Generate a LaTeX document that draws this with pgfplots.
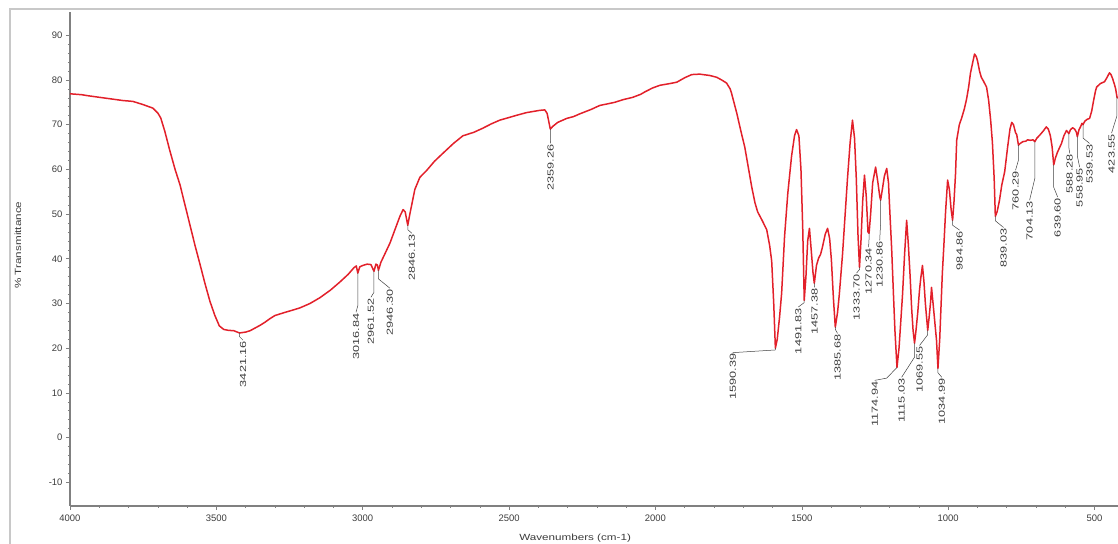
\documentclass[border=0pt]{standalone}
\usepackage{fontspec}
\setmainfont{Liberation Sans}
\usepackage{graphicx}
\usepackage{pgfplots}
\pgfplotsset{compat=1.18}
\definecolor{curvered}{RGB}{226,32,42}
\definecolor{axgray}{RGB}{128,128,128}
\definecolor{txtgray}{RGB}{60,60,60}
\definecolor{framegray}{RGB}{200,200,200}
\newcommand{\pk}[4]{\draw[leader] (axis cs:#1) -- (axis cs:#2) -- (axis cs:#3) node[rotate=90, anchor=east, inner sep=0.8bp, text=txtgray, font=\fontsize{8.8}{9}\selectfont] {\scalebox{1.45}[1]{#4}};}
\begin{document}
\begin{tikzpicture}[leader/.style={draw=black!75, line width=0.5bp}]
\begin{axis}[
  scale only axis,
  width=1048bp, height=494bp,
  x dir=reverse,
  xmin=420, xmax=4000,
  ymin=-15.3, ymax=95.2,
  axis x line*=bottom, axis y line*=left,
  axis line style={axgray, line width=1.2bp},
  xtick={500,1000,...,4000},
  ytick={-10,0,...,90},
  minor x tick num=4, minor y tick num=4,
  tick align=outside,
  major tick length=4bp, minor tick length=2bp,
  tick style={axgray, line width=0.6bp},
  /pgf/number format/assume math mode=true,
  /pgf/number format/1000 sep={},
  tick label style={text=txtgray, font=\fontsize{9.5}{10}\selectfont},
  xticklabel style={yshift=-1bp},
  xlabel={\scalebox{1.3}[1]{Wavenumbers (cm-1)}},
  ylabel={\scalebox{1.3}[1]{\% Transmittance}},
  label style={text=txtgray, font=\fontsize{9}{10}\selectfont},
  xlabel style={at={(axis description cs:0.482,-0.065)}, anchor=center},
  ylabel style={at={(axis description cs:-0.0496,0.528)}, anchor=center},
  clip=true,
]
\addplot[curvered, line width=1.5bp, line join=round] coordinates {
(4000,76.9) (3960,76.7) (3942,76.5) (3898,76.1) (3853,75.7) (3820,75.4) (3785,75.2)
(3751,74.5) (3717,73.7) (3700,72.6) (3690,71.5) (3676,68.5) (3659,64.2) (3641,60)
(3624,56.5) (3607,52) (3590,47.5) (3573,43) (3556,38.8) (3539,34.5) (3522,30.5)
(3505,27.3) (3490,25.0) (3475,24.2) (3460,24.0) (3440,23.9) (3421,23.4) (3400,23.6)
(3385,23.9) (3368,24.5) (3351,25.1) (3334,25.8) (3317,26.6) (3300,27.3) (3266,28.0)
(3240,28.5) (3215,29.0) (3180,30.0) (3146,31.3) (3110,33.0) (3078,34.8) (3050,36.5)
(3030,38.0) (3022,38.4) (3016.84,36.8) (3010,38.2) (3000,38.5) (2985,38.8) (2972,38.7)
(2961.52,37.2) (2955,38.8) (2950,38.6) (2946.3,37.4) (2938,39.2) (2925,41) (2907,43.5)
(2890,46.5) (2873,49.5) (2862,51) (2855,50.5) (2846.13,47.5) (2839,50) (2822,55.5)
(2805,58.2) (2781,59.8) (2755,61.8) (2726,63.6) (2690,65.8) (2658,67.5) (2620,68.3)
(2590,69.2) (2560,70.2) (2532,71.0) (2500,71.6) (2474,72.1) (2440,72.7) (2395,73.2)
(2378,73.3) (2370,72.5) (2359.26,69.0) (2351,69.6) (2334,70.5) (2303,71.4) (2280,71.8)
(2259,72.4) (2220,73.4) (2190,74.3) (2160,74.7) (2139,75.0) (2110,75.6) (2078,76.1)
(2050,76.8) (2037,77.3) (2010,78.2) (1985,78.8) (1950,79.2) (1927,79.5) (1900,80.5)
(1876,81.2) (1849,81.3) (1815,81.0) (1791,80.6) (1774,80.0) (1757,79.3) (1745,78.0)
(1740,77) (1730,74.5) (1722,72.5) (1708,68.5) (1695,65) (1683,60.5) (1671,56)
(1660,52.5) (1651,50.5) (1635,48.5) (1620,46.5) (1610,43) (1603,39.5) (1596,30)
(1590.39,20.0) (1584,22) (1576,27) (1569,32.3) (1559,45) (1548,54.6) (1535,63)
(1525,67.5) (1518,68.9) (1510,67.5) (1503,60) (1497,47) (1491.83,30.7) (1486,36)
(1480,44) (1474,46.8) (1468,42) (1462,37) (1457.38,34.5) (1450,38.5) (1443,40.1)
(1436,41) (1430,42.5) (1420,45.5) (1412,46.8) (1405,44.5) (1399,39.7) (1392,31)
(1385.68,24.7) (1378,28) (1372,32) (1361,41) (1352,50) (1344,58) (1335,66)
(1327,71) (1320,67) (1314,58) (1308,45) (1303,38.1) (1298,44) (1292,53)
(1286,58.7) (1280,54) (1274,46) (1270.34,45.7) (1265,50) (1258,57) (1248,60.5)
(1240,57) (1234,54) (1230.86,53.1) (1225,55.5) (1218,58.5) (1210,60.2) (1204,57)
(1199,50) (1193,42) (1187,32) (1182,24) (1175,15.7) (1168,20) (1162,26)
(1156,32) (1149,41) (1142,48.6) (1136,43) (1130,36) (1125,29) (1120,24)
(1115,21.1) (1110,24) (1104,28) (1098,33) (1094,35.5) (1088,38.5) (1083,35)
(1078,30) (1070,24) (1065,27) (1060,30.5) (1057,33.6) (1051,29.5) (1046,26)
(1040,21.8) (1035,15.5) (1029,22) (1026,27) (1020,36.8) (1014,44) (1009,50.5)
(1002,57.6) (996,55.5) (990,51) (985,48.6) (980,53) (975,59) (971,66.5)
(962,70) (954,71.5) (945,73.5) (937,75.8) (930,78.5) (924,81.5) (916,84)
(910,85.8) (904,85.2) (900,84.3) (893,82) (887,80.6) (880,79.8) (869,78.4)
(862,75.5) (855,71) (849,66) (843,58) (839,49.5) (833,50.5) (825,53)
(817,56.5) (807,59.5) (797,65) (789,69) (783,70.5) (777,70) (770,68.2)
(766,67.8) (760,65.4) (754,65.8) (745,66.2) (735,66.3) (729,66.6) (720,66.5)
(710,66.6) (704,66.2) (697,67.0) (688,67.6) (675,68.6) (665,69.5) (658,69.0)
(651,67.5) (645,65) (639.6,61.0) (634,62.5) (627,63.8) (620,64.8) (613,65.8)
(605,67.5) (596,68.7) (588,68.0) (582,68.9) (575,69.3) (568,69.0) (562,68.3)
(558.95,67.3) (553,68.9) (548,69.5) (543,70.3) (539.5,70.0) (533,70.8) (525,71.2)
(517,71.4) (510,73) (503,75.5) (497,77.5) (493,78.4) (480,79.2) (466,79.6)
(458,80.5) (449,81.6) (444,81.2) (439,80.4) (433,79.2) (428,78) (423.55,76.2)
(420,75.9)
};
\pk{3421.16,23.4}{3421.16,22.6}{3409,21.8}{3421.16}
\pk{3016.84,36.8}{3016.84,29.5}{3023,28.0}{3016.84}
\pk{2961.52,37.2}{2961.52,32.5}{2972,31.4}{2961.52}
\pk{2946.3,37.4}{2946.3,35.5}{2907,33.4}{2946.30}
\pk{2846.13,47.5}{2846.13,46.5}{2832,45.7}{2846.13}
\pk{2359.26,69.0}{2359.26,66.5}{2358,65.8}{2359.26}
\pk{1590.39,20.0}{1590.39,19.6}{1736,19.0}{1590.39}
\pk{1491.83,30.7}{1491.83,30.2}{1512,29.2}{1491.83}
\pk{1457.38,34.5}{1457.38,34.0}{1456,33.6}{1457.38}
\pk{1385.68,24.7}{1385.68,24.2}{1378,23.3}{1385.68}
\pk{1303,38.1}{1303,37.6}{1313,36.8}{1333.70}
\pk{1270.34,45.7}{1270.34,44.5}{1272,42.6}{1270.34}
\pk{1230.86,53.1}{1230.86,48}{1234,44.1}{1230.86}
\pk{1175,15.7}{1210,13.3}{1251,12.8}{1174.94}
\pk{1115,21.1}{1115,18}{1159,13.5}{1115.03}
\pk{1070,24}{1070,23}{1098,20.6}{1069.55}
\pk{1035,15.5}{1035,14.5}{1022,13.5}{1034.99}
\pk{985,48.6}{985,47.5}{961,46.4}{984.86}
\pk{839,49.5}{839,48.5}{811,47.0}{839.03}
\pk{760.29,65.4}{760.29,62}{770,59.8}{760.29}
\pk{704,66.2}{704,58}{722,53.1}{704.13}
\pk{639.6,61.0}{639.6,56}{626,53.8}{639.60}
\pk{588,68.0}{588,65}{585,63.6}{588.28}
\pk{558.95,67.3}{558.95,63}{551,60.5}{558.95}
\pk{539.5,70.0}{539.5,67}{517,65.8}{539.53}
\pk{423.55,76.2}{423.55,72}{442,68.1}{423.55}
\end{axis}
\draw[framegray, line width=2bp] ([xshift=-60bp]current axis.south west) ++(0,-40bp) |- ([yshift=3bp]current axis.north east);
\pgfresetboundingbox
\path[use as bounding box] ([xshift=-70bp,yshift=-38bp]current axis.south west) rectangle ([yshift=12bp]current axis.north east);
\end{tikzpicture}
\end{document}
